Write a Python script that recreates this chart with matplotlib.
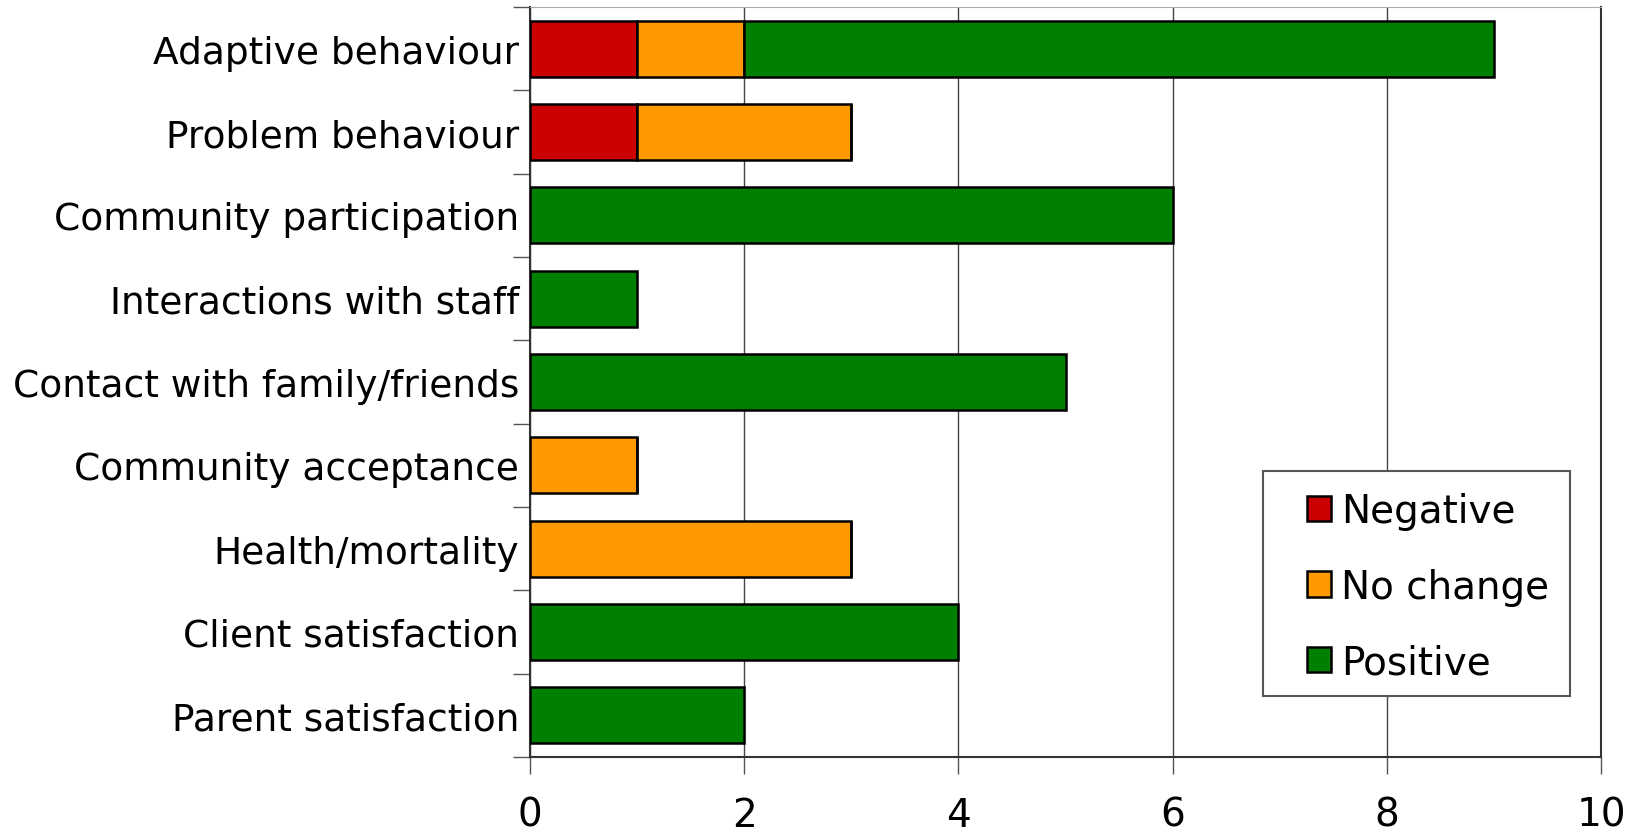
import matplotlib.pyplot as plt
from matplotlib.patches import Rectangle
import numpy as np

# Number of studies per outcome, split by direction of effect
outcomes = ["Adaptive behaviour", "Problem behaviour", "Community participation",
            "Interactions with staff", "Contact with family/friends",
            "Community acceptance", "Health/mortality", "Client satisfaction",
            "Parent satisfaction"]
negative = [1, 1, 0, 0, 0, 0, 0, 0, 0]
no_change = [1, 2, 0, 0, 0, 1, 3, 0, 0]
positive = [7, 0, 6, 1, 5, 0, 0, 4, 2]

colors = {"Negative": "#CC0000", "No change": "#FF9900", "Positive": "#008000"}

fig = plt.figure(figsize=(16.49, 8.37), dpi=100)
ax = fig.add_axes([0.3214, 0.0944, 0.6495, 0.896])

y = np.arange(len(outcomes))
neg = np.array(negative)
nc = np.array(no_change)
pos = np.array(positive)
h = 0.67

ax.barh(y, neg, h, color=colors["Negative"], edgecolor="black", linewidth=1.8,
        label="Negative", zorder=3)
ax.barh(y, nc, h, left=neg, color=colors["No change"], edgecolor="black",
        linewidth=1.8, label="No change", zorder=3)
ax.barh(y, pos, h, left=neg + nc, color=colors["Positive"], edgecolor="black",
        linewidth=1.8, label="Positive", zorder=3)

ax.set_xlim(0, 10)
ax.set_ylim(len(outcomes) - 0.5, -0.5)
ax.set_xticks(np.arange(0, 11, 2))
ax.tick_params(axis="x", labelsize=28, length=12, width=1, color="#555555", pad=16)

# category labels sit between boundary ticks
ax.set_yticks(np.arange(len(outcomes) + 1) - 0.5)
ax.set_yticklabels([])
ax.set_yticks(y, minor=True)
ax.set_yticklabels(outcomes, minor=True, fontsize=27)
ax.tick_params(axis="y", which="major", length=12, width=1, color="#555555")
ax.tick_params(axis="y", which="minor", length=0, pad=8)

ax.grid(axis="x", color="#444444", linewidth=1, zorder=0)
for side in ["left", "bottom", "right"]:
    ax.spines[side].set_color("#333333")
    ax.spines[side].set_linewidth(1.5)
ax.spines["top"].set_color("#aaaaaa")

# legend box: white frame drawn separately so the side padding can be wider
ax.add_patch(Rectangle((0.684, 0.081), 0.287, 0.30, transform=ax.transAxes,
                       facecolor="white", edgecolor="#555555", linewidth=1.5,
                       zorder=4))
leg = ax.legend(loc="center left", bbox_to_anchor=(0.7255, 0.227), fontsize=28,
                frameon=False, handlelength=0.62, handleheight=0.62,
                handletextpad=0.25, labelspacing=0.97, borderpad=0,
                borderaxespad=0)
leg.set_zorder(5)

fig.savefig("out.png", dpi=100)
